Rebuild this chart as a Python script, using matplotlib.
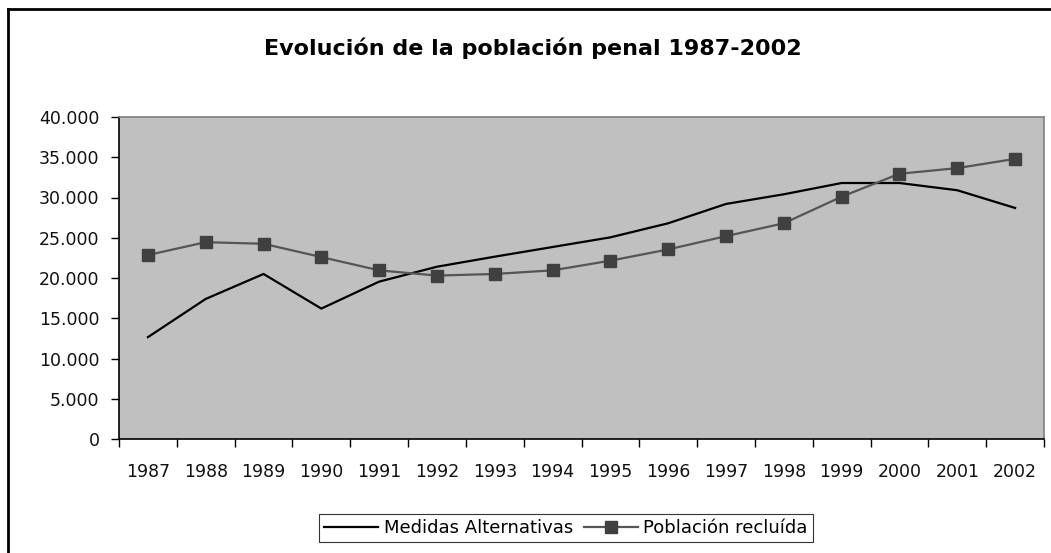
import matplotlib
matplotlib.use("Agg")
import matplotlib.pyplot as plt
from matplotlib.lines import Line2D
from matplotlib.ticker import FixedLocator, FuncFormatter

years = ["1987", "1988", "1989", "1990", "1991", "1992", "1993", "1994",
         "1995", "1996", "1997", "1998", "1999", "2000", "2001", "2002"]
medidas = [12650, 17400, 20500, 16200, 19550, 21400, 22650, 23850,
           25050, 26800, 29200, 30400, 31800, 31800, 30900, 28700]
reclusa = [22850, 24450, 24250, 22600, 20950, 20300, 20500, 20950,
           22150, 23550, 25200, 26800, 30100, 32950, 33650, 34800]
yticks = [0, 5000, 10000, 15000, 20000, 25000, 30000, 35000, 40000]

GRAYBG = "#c0c0c0"; DARK = "#404040"; LINE2 = "#555555"; FRAME = "#808080"

fig = plt.figure(figsize=(10.51, 5.53), dpi=100)
ax = fig.add_axes([119/1051, 1-439/553, 925/1051, 322/553])
ax.set_facecolor(GRAYBG)

x = range(len(years))
ax.plot(x, medidas, color="black", lw=1.6, label="Medidas Alternativas")
ax.plot(x, reclusa, color=LINE2, lw=1.6, marker="s", ms=8.5,
        mfc=DARK, mec=DARK, label="Población recluída")

ax.set_xlim(-0.5, len(years)-0.5)
ax.set_ylim(0, 40000)
ax.set_yticks(yticks)
ax.yaxis.set_major_formatter(FuncFormatter(lambda v, p: f"{int(v):,}".replace(",", ".")))
ax.set_xticks(list(x))
ax.set_xticklabels(years)
ax.xaxis.set_minor_locator(FixedLocator([i-0.5 for i in range(len(years)+1)]))
ax.tick_params(axis="x", which="major", length=0, pad=17, labelsize=12.5)
ax.tick_params(axis="x", which="minor", length=6, width=1, color="black")
ax.tick_params(axis="y", length=6, width=1, pad=8, labelsize=12.5)
for lab in ax.get_xticklabels() + ax.get_yticklabels():
    lab.set_color("#111111")

for sp in ["left", "bottom"]:
    ax.spines[sp].set_color("black"); ax.spines[sp].set_linewidth(1.2)
for sp in ["top", "right"]:
    ax.spines[sp].set_color(FRAME); ax.spines[sp].set_linewidth(1.2)

fig.text(533/1051, 1-48/553, "Evolución de la población penal 1987-2002",
         ha="center", va="center", fontsize=16, fontweight="bold")

leg = fig.legend(loc="center", bbox_to_anchor=(566/1051, 1-528/553), ncol=2,
                 fontsize=13, frameon=True, fancybox=False, handlelength=3,
                 columnspacing=0.6, handletextpad=0.3, borderpad=0.3)
leg.get_frame().set_edgecolor("black"); leg.get_frame().set_linewidth(0.8)

# outer chart border (top and left visible)
fig.add_artist(Line2D([8/1051, 8/1051], [0, 1-9/553], transform=fig.transFigure,
                      color="black", lw=2))
fig.add_artist(Line2D([8/1051, 1], [1-9/553, 1-9/553], transform=fig.transFigure,
                      color="black", lw=2))

plt.savefig("out.png", dpi=100)
